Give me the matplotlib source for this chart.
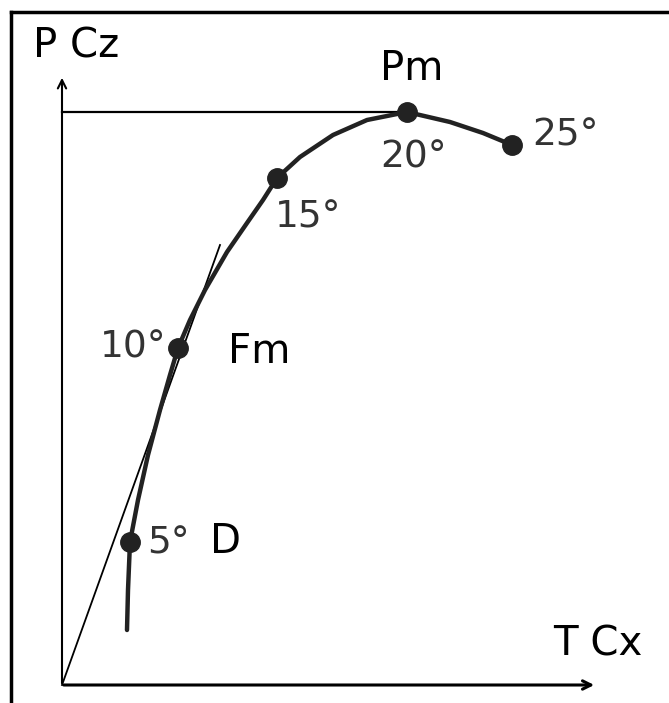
import matplotlib
matplotlib.use('Agg')
import matplotlib.pyplot as plt

plt.rcParams['font.family'] = ['DejaVu Sans']

# polar curve, units (origin at the axes corner)
curve_cx = [65, 66, 68, 76, 86, 98, 108, 116, 128, 143, 165, 185, 201, 215,
            238, 271, 305, 345, 388, 421, 450]
curve_cz = [55, 95, 143, 185, 230, 275, 310, 337, 365, 395, 433, 462, 485, 507,
            528, 550, 565, 573, 563, 552, 540]

angle_labels = ['5°', '10°', '15°', '20°', '25°']
angle_cx = [68, 116, 215, 345, 450]
angle_cz = [143, 337, 507, 573, 540]
# label anchor (left, baseline)
angle_lx = [85, 38, 213, 318, 470]
angle_ly = [132, 327, 458, 517, 540]

names = ['P Cz', 'Pm', 'Fm', 'D', 'T Cx']
name_x = [-29, 318, 166, 148, 491]
name_y = [627, 605, 322, 132, 30]

tangent_cx = [0, 158]
tangent_cz = [0, 440]

fig = plt.figure(figsize=(6.69, 7.03), dpi=100)
ax = fig.add_axes([0, 0, 1, 1])
ax.set_xlim(-62, 607)
ax.set_ylim(-18, 685)
ax.axis('off')

# frame (left and top only visible)
ax.plot([-51, -51], [-18, 673], color='black', lw=2.5)
ax.plot([-51, 607], [673, 673], color='black', lw=2.5)

# axes with arrows
ax.annotate('', xy=(0, 610), xytext=(0, -1),
            arrowprops=dict(arrowstyle='->,head_length=0.6,head_width=0.3', lw=1.5, color='black'))
ax.annotate('', xy=(535, 0), xytext=(-1, 0),
            arrowprops=dict(arrowstyle='->,head_length=0.6,head_width=0.3', lw=2.2, color='black'))

# max lift line and tangent from origin
ax.plot([0, angle_cx[3]], [angle_cz[3], angle_cz[3]], color='black', lw=1.6)
ax.plot(tangent_cx, tangent_cz, color='black', lw=1.3)

ax.plot(curve_cx, curve_cz, color='#222222', lw=3.2,
        solid_capstyle='round', solid_joinstyle='round')
ax.plot(angle_cx, angle_cz, 'o', color='#222222', ms=14)

for s, x, y in zip(angle_labels, angle_lx, angle_ly):
    ax.text(x, y, s, ha='left', va='baseline', fontsize=27, color='#333333')

for s, x, y in zip(names, name_x, name_y):
    ax.text(x, y, s, ha='left', va='baseline', fontsize=29, color='black')

fig.savefig('out.png', dpi=100, facecolor='white')
